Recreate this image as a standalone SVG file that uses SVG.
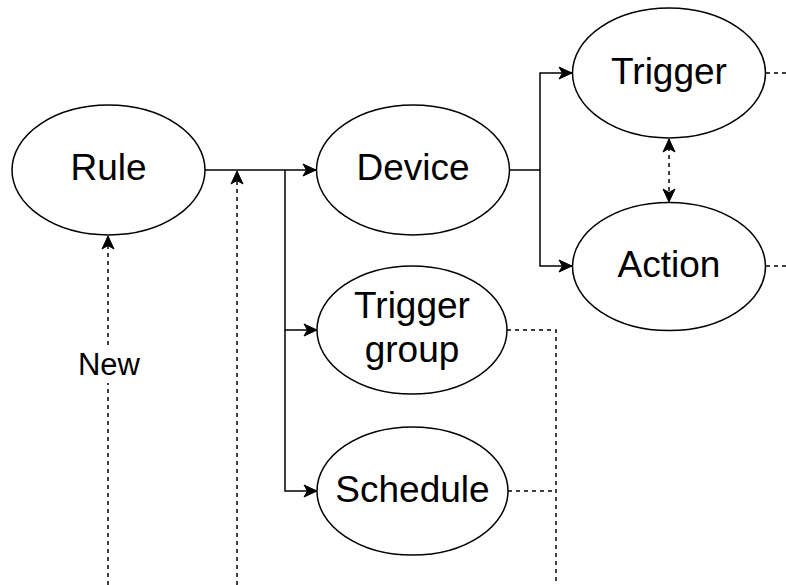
<svg xmlns="http://www.w3.org/2000/svg" width="786" height="585" viewBox="0 0 786 585">
  <defs>
    <marker id="arrow" markerUnits="userSpaceOnUse" markerWidth="15" markerHeight="14" viewBox="0 0 15 14" refX="14" refY="7" orient="auto-start-reverse">
      <path d="M1,1 L14,7 L1,13 L4.5,7 Z" fill="#000" stroke="#000" stroke-width="1" stroke-linejoin="miter"/>
    </marker>
    <style>
      .node ellipse { fill: #fff; stroke: #000; stroke-width: 1.5; }
      .node text { font-family: "Liberation Sans", Arial, Helvetica, sans-serif; font-size: 37px; fill: #000; text-anchor: middle; }
      .edge { fill: none; stroke: #000; stroke-width: 1.5; }
      .dash { stroke-dasharray: 4 4; }
      .label { font-family: "Liberation Sans", Arial, Helvetica, sans-serif; font-size: 31px; fill: #000; text-anchor: middle; }
    </style>
  </defs>

  <rect width="786" height="585" fill="#fff"/>

  <!-- connectors -->
  <g id="connectors">
    <!-- Rule to its children -->
    <path class="edge" d="M205,170 L316,170" marker-end="url(#arrow)"/>
    <path class="edge" d="M285,170 L285,330 L317,330" marker-end="url(#arrow)"/>
    <path class="edge" d="M285,330 L285,491 L317,491" marker-end="url(#arrow)"/>
    <!-- Device to trigger and action -->
    <path class="edge" d="M510,170 L540,170 L540,73 L572,73" marker-end="url(#arrow)"/>
    <path class="edge" d="M540,170 L540,266 L572,266" marker-end="url(#arrow)"/>
    <!-- trigger / action link -->
    <path class="edge dash" d="M669,139 L669,202" marker-start="url(#arrow)" marker-end="url(#arrow)"/>
    <!-- outgoing stubs -->
    <path class="edge dash" d="M766,73 L786,73"/>
    <path class="edge dash" d="M766,266 L786,266"/>
    <path class="edge dash" d="M507,330 L556,330 L556,585"/>
    <path class="edge dash" d="M508,491 L556,491"/>
    <!-- incoming dashed lines -->
    <path class="edge dash" d="M237,585 L237,171" marker-end="url(#arrow)"/>
    <path class="edge dash" d="M108,585 L108,236" marker-end="url(#arrow)"/>
    <rect x="72" y="347" width="74" height="36" fill="#fff"/>
    <text class="label" x="109" y="375">New</text>
  </g>

  <g id="rule" class="node">
    <ellipse cx="108.5" cy="170" rx="96.5" ry="65"/>
    <text x="108.5" y="180">Rule</text>
  </g>

  <g id="device" class="node">
    <ellipse cx="413" cy="170" rx="96.5" ry="65"/>
    <text x="413" y="180">Device</text>
  </g>

  <g id="trigger" class="node">
    <ellipse cx="669" cy="73" rx="96.5" ry="65"/>
    <text x="669" y="84">Trigger</text>
  </g>

  <g id="action" class="node">
    <ellipse cx="669" cy="266.5" rx="96.5" ry="64"/>
    <text x="669" y="277">Action</text>
  </g>

  <g id="trigger-group" class="node">
    <ellipse cx="412" cy="330" rx="95" ry="64"/>
    <text x="412" y="318">Trigger</text>
    <text x="412" y="362">group</text>
  </g>

  <g id="schedule" class="node">
    <ellipse cx="412.5" cy="491" rx="95.5" ry="64"/>
    <text x="412.5" y="502">Schedule</text>
  </g>
</svg>
